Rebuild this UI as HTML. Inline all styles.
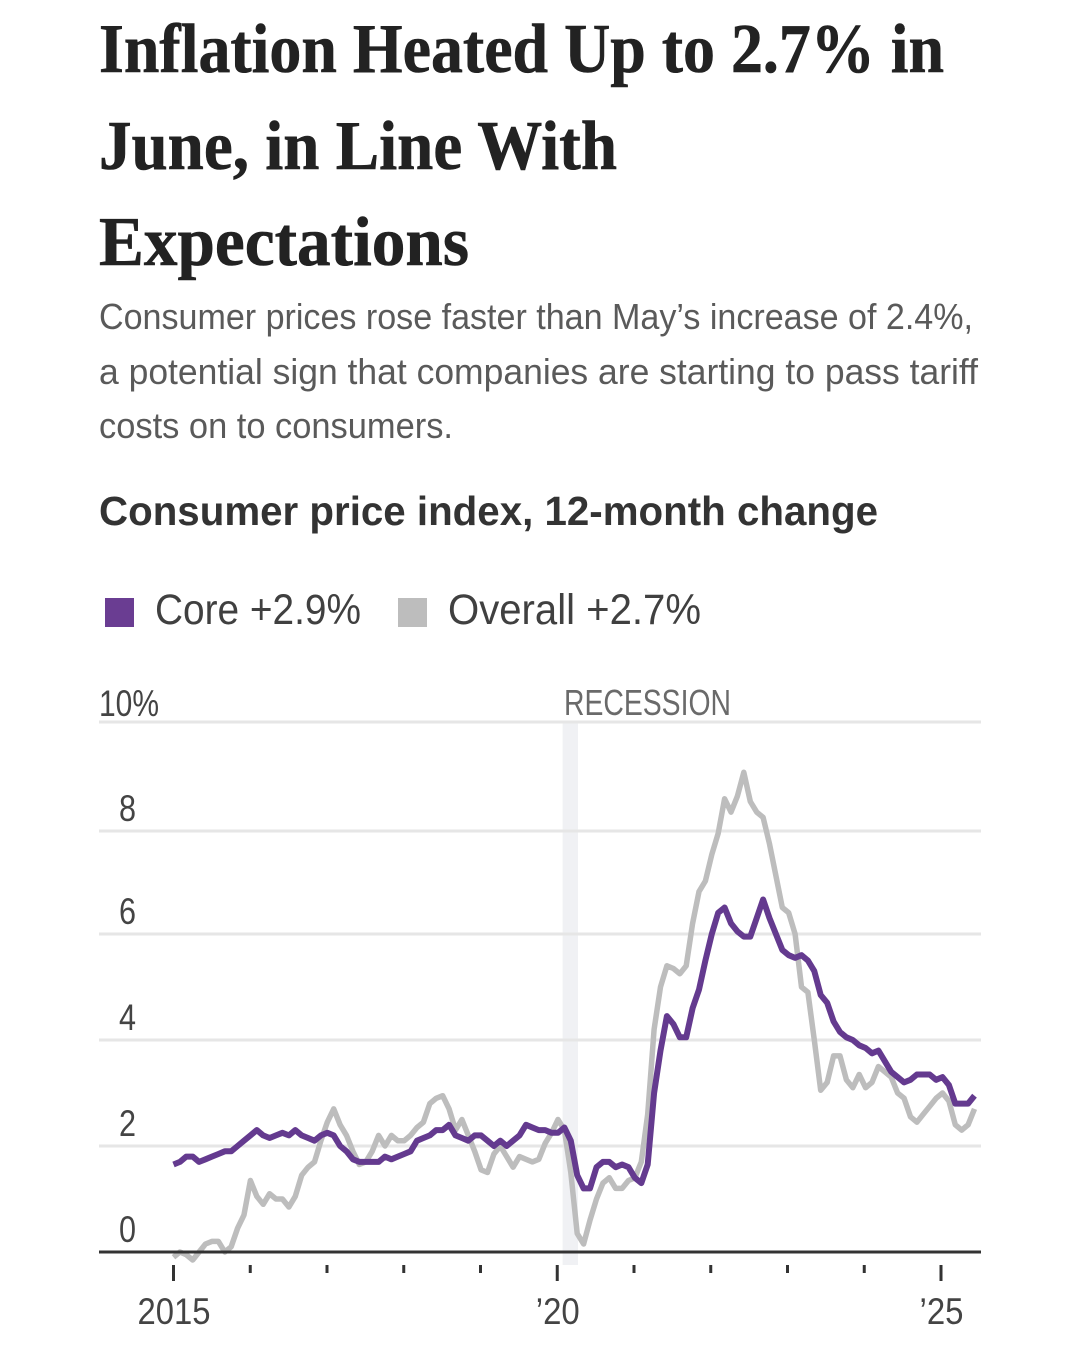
<!DOCTYPE html>
<html lang="en">
<head>
<meta charset="utf-8">
<title>Inflation Heated Up to 2.7% in June</title>
<style>
html,body{margin:0;padding:0;background:#fff;width:1080px;height:1347px;overflow:hidden}
svg{display:block}
.title{font-family:"Liberation Serif",serif;font-weight:700;font-size:70px;fill:#222;stroke:#222;stroke-width:.6}
.sub{font-family:"Liberation Sans",sans-serif;font-size:36px;fill:#5a5a5a}
.head{font-family:"Liberation Sans",sans-serif;font-weight:700;font-size:41px;fill:#333}
.leg{font-family:"Liberation Sans",sans-serif;font-size:43px;fill:#404040}
.tick{font-family:"Liberation Sans",sans-serif;font-size:37px;fill:#444}
.rec{font-family:"Liberation Sans",sans-serif;font-size:36px;fill:#6a6a6a}
</style>
</head>
<body>
<svg id="chart" xmlns="http://www.w3.org/2000/svg" width="1080" height="1347" viewBox="0 0 1080 1347">
  <rect x="0" y="0" width="1080" height="1347" fill="#fff"/>
  <g>
    <text class="title" x="99" y="72" textLength="845" lengthAdjust="spacingAndGlyphs">Inflation Heated Up to 2.7% in</text>
    <text class="title" x="99" y="169" textLength="518" lengthAdjust="spacingAndGlyphs">June, in Line With</text>
    <text class="title" x="99" y="265" textLength="370" lengthAdjust="spacingAndGlyphs">Expectations</text>
  </g>
  <g>
    <text class="sub" x="99" y="329" textLength="874" lengthAdjust="spacingAndGlyphs">Consumer prices rose faster than May’s increase of 2.4%,</text>
    <text class="sub" x="99" y="384" textLength="879" lengthAdjust="spacingAndGlyphs">a potential sign that companies are starting to pass tariff</text>
    <text class="sub" x="99" y="438" textLength="354" lengthAdjust="spacingAndGlyphs">costs on to consumers.</text>
  </g>
  <text class="head" x="99" y="525" textLength="779" lengthAdjust="spacingAndGlyphs">Consumer price index, 12-month change</text>
  <g>
    <rect x="105" y="598" width="29" height="29" fill="#6a3d92"/>
    <text class="leg" x="155" y="624" textLength="206" lengthAdjust="spacingAndGlyphs">Core +2.9%</text>
    <rect x="398" y="598" width="29" height="29" fill="#bdbdbd"/>
    <text class="leg" x="448" y="624" textLength="253" lengthAdjust="spacingAndGlyphs">Overall +2.7%</text>
  </g>
  <g id="plot"></g>
</svg>
<script>
// Chart data
const yearLabels = {2015: '2015', 2020: '’20', 2025: '’25'};
const tickYears = [2015, 2016, 2017, 2018, 2019, 2020, 2021, 2022, 2023, 2024, 2025];
const yTicks = [0, 2, 4, 6, 8, 10];
const yTickLabels = ['0', '2', '4', '6', '8', '10%'];
const recessionYears = [2020.07, 2020.27];
const startYear = 2015;
const core = [
  1.65,1.7,1.8,1.8,1.7,1.75,1.8,1.85,1.9,1.9,2.0,2.1,
  2.2,2.3,2.2,2.15,2.2,2.25,2.2,2.3,2.2,2.15,2.1,2.2,
  2.25,2.2,2.0,1.9,1.75,1.7,1.7,1.7,1.7,1.8,1.75,1.8,
  1.85,1.9,2.1,2.15,2.2,2.3,2.3,2.4,2.2,2.15,2.1,2.2,
  2.2,2.1,2.0,2.1,2.0,2.1,2.2,2.4,2.35,2.3,2.3,2.25,
  2.25,2.35,2.1,1.45,1.2,1.2,1.6,1.7,1.7,1.6,1.65,1.6,
  1.4,1.3,1.65,3.0,3.8,4.45,4.3,4.05,4.05,4.6,4.95,5.5,
  6.0,6.4,6.5,6.2,6.05,5.95,5.95,6.3,6.65,6.3,6.0,5.7,
  5.6,5.55,5.6,5.5,5.3,4.85,4.7,4.35,4.15,4.05,4.0,3.9,
  3.85,3.75,3.8,3.6,3.4,3.3,3.2,3.25,3.35,3.35,3.35,3.25,
  3.3,3.15,2.8,2.8,2.8,2.95
];
const overall = [
  -0.1,0.0,-0.05,-0.15,0.0,0.15,0.2,0.2,0.0,0.1,0.45,0.7,
  1.35,1.05,0.9,1.1,1.0,1.0,0.85,1.05,1.45,1.6,1.7,2.1,
  2.45,2.7,2.4,2.2,1.9,1.65,1.7,1.9,2.2,2.0,2.2,2.1,
  2.1,2.2,2.35,2.45,2.8,2.9,2.95,2.7,2.3,2.5,2.2,1.9,
  1.55,1.5,1.85,2.0,1.8,1.6,1.8,1.75,1.7,1.75,2.05,2.25,
  2.5,2.3,1.5,0.35,0.15,0.6,1.0,1.3,1.4,1.2,1.2,1.35,
  1.4,1.7,2.6,4.2,5.0,5.4,5.35,5.25,5.4,6.2,6.8,7.0,
  7.5,7.9,8.55,8.3,8.6,9.05,8.5,8.3,8.2,7.7,7.1,6.5,
  6.4,6.0,5.0,4.9,4.0,3.05,3.2,3.7,3.7,3.25,3.1,3.35,
  3.1,3.2,3.5,3.4,3.3,3.0,2.9,2.55,2.45,2.6,2.75,2.9,
  3.0,2.85,2.4,2.3,2.4,2.7
];

const svgNS = 'http://www.w3.org/2000/svg';
const plot = document.getElementById('plot');
const xYear = function (year) { return 173.5 + (year - 2015) * 76.75; };
const yVal = function (v) { return 1252 - v * 53; };
const xData = function (year) { return 173.5 + (year - 2015) * 76.9; };
const make = function (tag, attrs, parent) {
  const el = document.createElementNS(svgNS, tag);
  Object.keys(attrs).forEach(function (k) { el.setAttribute(k, attrs[k]); });
  parent.appendChild(el);
  return el;
};

// Recession band
const band = make('rect', {x: xYear(recessionYears[0]), y: yVal(10), width: xYear(recessionYears[1]) - xYear(recessionYears[0]), height: 543, fill: '#f0f1f4'}, plot);



const recLabel = make('text', {x: 564, y: 715, class: 'rec', textLength: 167, lengthAdjust: 'spacingAndGlyphs'}, plot);
recLabel.textContent = 'RECESSION';



// Y gridlines and labels
yTicks.forEach(function (t, i) {
  const gy = t === 8 ? yVal(t) + 3 : yVal(t);
  if (t !== 0) {
    const grid = make('line', {x1: 99, x2: 981, y1: gy, y2: gy, stroke: '#e6e6e6', 'stroke-width': 3}, plot);
    
    
  }
  const isTop = i === yTicks.length - 1;
  const attrs = {x: isTop ? 99 : 127.5, y: gy - 10, class: 'tick', 'text-anchor': isTop ? 'start' : 'middle'};
  if (isTop) { attrs.textLength = 60; attrs.lengthAdjust = 'spacingAndGlyphs'; attrs.y = gy - 6; }
  else { attrs.textLength = 17; attrs.lengthAdjust = 'spacingAndGlyphs'; }
  const lab = make('text', attrs, plot);
  lab.textContent = yTickLabels[i];
  
  
});

// X ticks and labels
tickYears.forEach(function (yr) {
  const major = yearLabels[yr] !== undefined;
  const tick = make('line', {x1: xYear(yr), x2: xYear(yr), y1: 1265, y2: major ? 1281 : 1273, stroke: '#333', 'stroke-width': 3}, plot);
  
  
  if (major) {
    const lab = make('text', {x: xYear(yr) + 0.5, y: 1324, class: 'tick', 'text-anchor': 'middle', textLength: yr === 2015 ? 73 : 44, lengthAdjust: 'spacingAndGlyphs'}, plot);
    lab.textContent = yearLabels[yr];
    
    
  }
});

// Series lines
const linePath = function (values) {
  return values.map(function (v, i) {
    const x = xData(startYear + i / 12);
    return (i === 0 ? 'M' : 'L') + x.toFixed(1) + ' ' + yVal(v).toFixed(1);
  }).join(' ');
};
const overallLine = make('path', {d: linePath(overall), fill: 'none', stroke: '#bdbdbd', 'stroke-width': 5.5, 'stroke-linejoin': 'round'}, plot);



// Zero baseline
const base = make('line', {x1: 99, x2: 981, y1: yVal(0), y2: yVal(0), stroke: '#333', 'stroke-width': 3}, plot);



const coreLine = make('path', {d: linePath(core), fill: 'none', stroke: '#643a8f', 'stroke-width': 6, 'stroke-linejoin': 'round'}, plot);


</script>
</body>
</html>
